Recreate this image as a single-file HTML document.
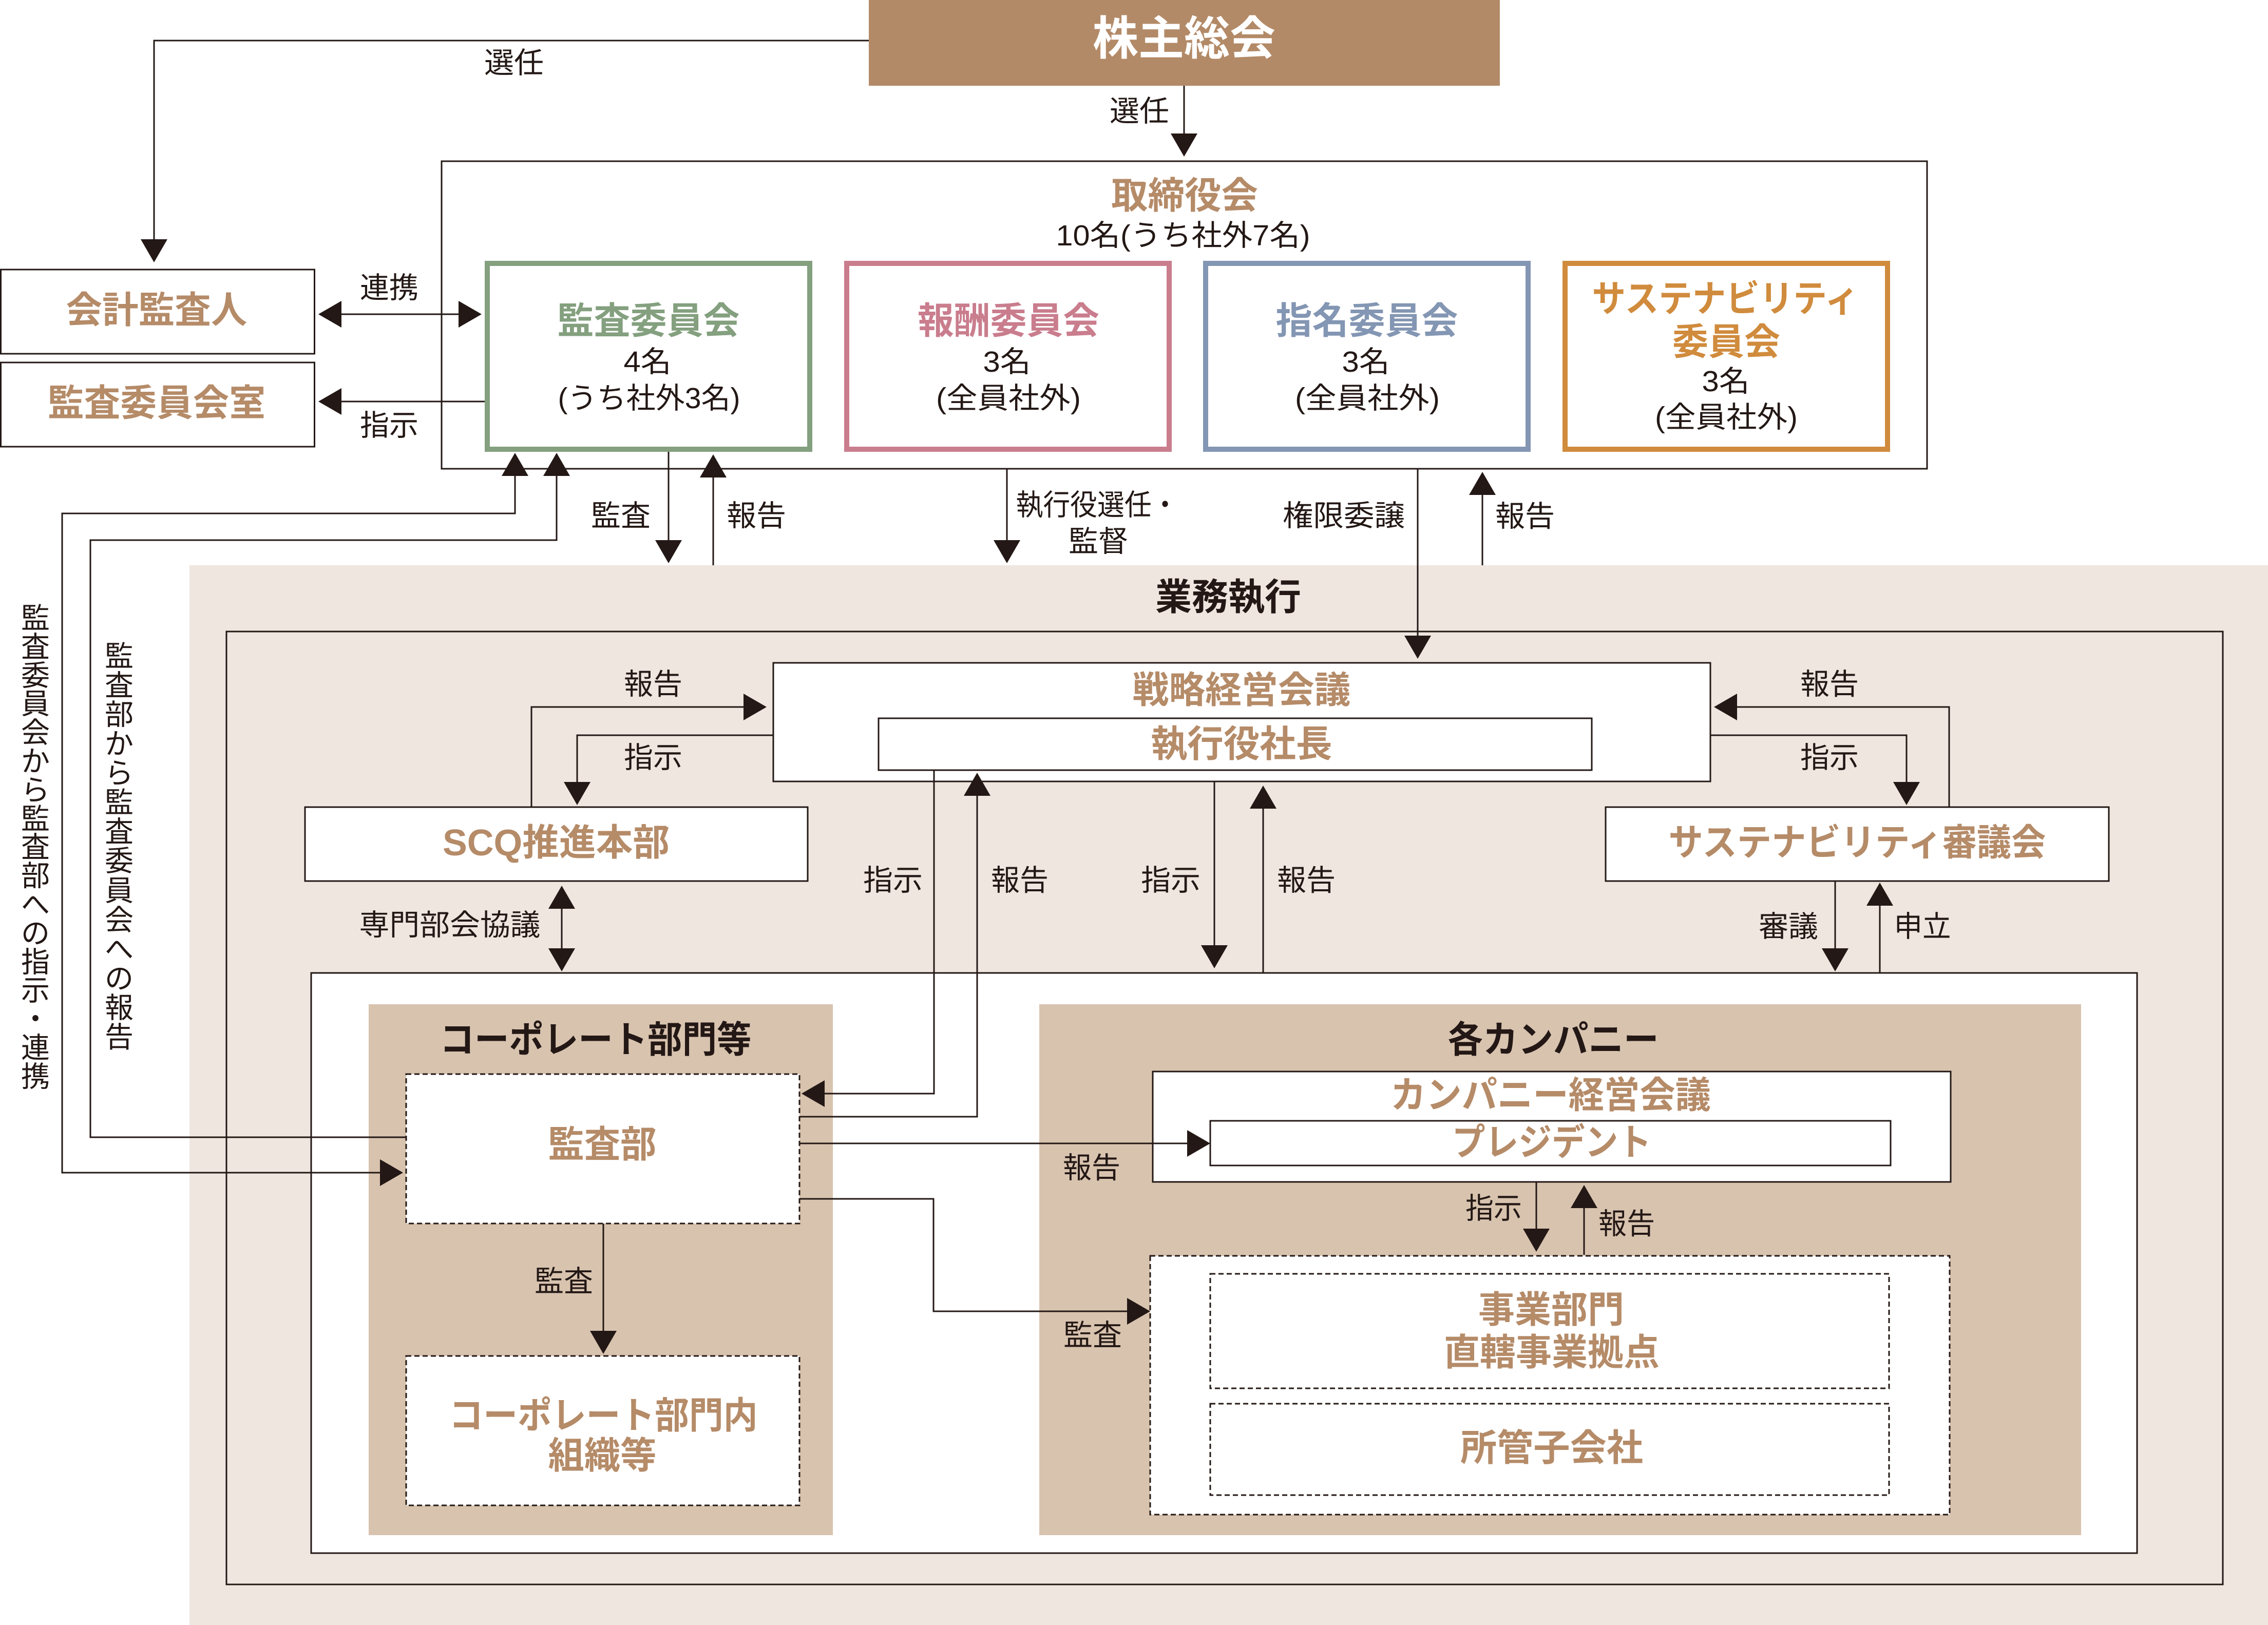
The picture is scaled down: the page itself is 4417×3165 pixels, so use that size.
<!DOCTYPE html>
<html><head><meta charset="utf-8"><style>
html,body{margin:0;padding:0;background:#fff;}
svg{display:block;}
text{font-family:"Liberation Sans","Noto Sans CJK JP",sans-serif;dominant-baseline:central;text-anchor:middle;}
.r{font-size:57px;fill:#231815;}
.b{font-size:72px;font-weight:bold;fill:#B58B68;}
.k{font-size:72px;font-weight:bold;fill:#231815;}
.l{stroke:#231815;stroke-width:3;fill:none;}
.d{stroke:#231815;stroke-width:3;stroke-dasharray:10 6;}
.a{fill:#231815;}
</style></head><body>
<svg width="4417" height="3165" viewBox="0 0 4417 3165" xmlns="http://www.w3.org/2000/svg">
<!-- backgrounds -->
<rect x="1692" y="0" width="1229" height="167" fill="#B38A67"/>
<rect x="369" y="1101" width="4048" height="2064" fill="#EFE6E0"/>

<!-- board -->
<rect x="860" y="314" width="2893" height="599" class="l"/>
<rect x="949" y="513" width="628" height="362" fill="#fff" stroke="#84A07F" stroke-width="10"/>
<rect x="1649" y="513" width="628" height="362" fill="#fff" stroke="#C97D8D" stroke-width="10"/>
<rect x="2348" y="513" width="628" height="362" fill="#fff" stroke="#8396B3" stroke-width="10"/>
<rect x="3048" y="513" width="628" height="362" fill="#fff" stroke="#D08B3D" stroke-width="10"/>

<rect x="1.5" y="525" width="611" height="164" class="l"/>
<rect x="1.5" y="706" width="611" height="164" class="l"/>

<!-- execution -->
<rect x="441" y="1230" width="3888" height="1856" class="l"/>
<rect x="1506" y="1291" width="1825" height="231" class="l" style="fill:#fff"/>
<rect x="1711" y="1399" width="1389" height="101" class="l" style="fill:#fff"/>
<rect x="594" y="1572" width="979" height="144" class="l" style="fill:#fff"/>
<rect x="3127" y="1572" width="980" height="144" class="l" style="fill:#fff"/>
<rect x="606" y="1895" width="3556" height="1130" class="l" style="fill:#fff"/>
<rect x="718" y="1956" width="904" height="1034" fill="#D8C3AF"/>
<rect x="2024" y="1956" width="2029" height="1034" fill="#D8C3AF"/>
<rect x="791" y="2092" width="766" height="291" fill="#fff" class="d"/>
<rect x="791" y="2641" width="766" height="291" fill="#fff" class="d"/>
<rect x="2245" y="2087" width="1554" height="215" class="l" style="fill:#fff"/>
<rect x="2357" y="2183" width="1325" height="87" class="l" style="fill:#fff"/>
<rect x="2240" y="2446" width="1557" height="504" fill="#fff" class="d"/>
<rect x="2357" y="2481" width="1322" height="223" fill="none" class="d"/>
<rect x="2357" y="2734" width="1322" height="178" fill="none" class="d"/>

<!-- connectors -->
<polyline class="l" points="1692,79 300,79 300,470"/>
<polygon class="a" points="274,466 326,466 300,511"/>
<line class="l" x1="2306" y1="167" x2="2306" y2="264"/>
<polygon class="a" points="2280,260 2332,260 2306,305"/>
<line class="l" x1="660" y1="612" x2="898" y2="612"/>
<polygon class="a" points="665,586 665,638 620,612"/>
<polygon class="a" points="893,586 893,638 938,612"/>
<line class="l" x1="944" y1="782" x2="660" y2="782"/>
<polygon class="a" points="665,756 665,808 620,782"/>

<polyline class="l" points="1003,922 1003,1000 121,1000 121,2284 745,2284"/>
<polygon class="a" points="977,927 1029,927 1003,882"/>
<polygon class="a" points="740,2258 740,2310 785,2284"/>
<polyline class="l" points="1084,922 1084,1052 176,1052 176,2215 791,2215"/>
<polygon class="a" points="1058,927 1110,927 1084,882"/>

<line class="l" x1="1302" y1="880" x2="1302" y2="1056"/>
<polygon class="a" points="1276,1052 1328,1052 1302,1097"/>
<line class="l" x1="1389" y1="1101" x2="1389" y2="926"/>
<polygon class="a" points="1363,930 1415,930 1389,885"/>
<line class="l" x1="1961" y1="913" x2="1961" y2="1056"/>
<polygon class="a" points="1935,1052 1987,1052 1961,1097"/>
<line class="l" x1="2761" y1="913" x2="2761" y2="1242"/>
<polygon class="a" points="2735,1238 2787,1238 2761,1283"/>
<line class="l" x1="2887" y1="1101" x2="2887" y2="960"/>
<polygon class="a" points="2861,964 2913,964 2887,919"/>

<polyline class="l" points="1035,1572 1035,1377 1452,1377"/>
<polygon class="a" points="1448,1351 1448,1403 1493,1377"/>
<polyline class="l" points="1506,1432 1124,1432 1124,1527"/>
<polygon class="a" points="1098,1523 1150,1523 1124,1568"/>
<polyline class="l" points="3796,1572 3796,1377 3379,1377"/>
<polygon class="a" points="3383,1351 3383,1403 3338,1377"/>
<polyline class="l" points="3331,1432 3713,1432 3713,1527"/>
<polygon class="a" points="3687,1523 3739,1523 3713,1568"/>

<line class="l" x1="1094" y1="1766" x2="1094" y2="1851"/>
<polygon class="a" points="1068,1770 1120,1770 1094,1725"/>
<polygon class="a" points="1068,1847 1120,1847 1094,1892"/>
<line class="l" x1="3574" y1="1716" x2="3574" y2="1851"/>
<polygon class="a" points="3548,1847 3600,1847 3574,1892"/>
<line class="l" x1="3661" y1="1895" x2="3661" y2="1760"/>
<polygon class="a" points="3635,1764 3687,1764 3661,1719"/>
<line class="l" x1="2365" y1="1522" x2="2365" y2="1845"/>
<polygon class="a" points="2339,1841 2391,1841 2365,1886"/>
<line class="l" x1="2460" y1="1895" x2="2460" y2="1571"/>
<polygon class="a" points="2434,1575 2486,1575 2460,1530"/>

<polyline class="l" points="1819,1500 1819,2130 1602,2130"/>
<polygon class="a" points="1606,2104 1606,2156 1561,2130"/>
<polyline class="l" points="1557,2175 1903,2175 1903,1546"/>
<polygon class="a" points="1877,1550 1929,1550 1903,1505"/>
<line class="l" x1="1557" y1="2227" x2="2316" y2="2227"/>
<polygon class="a" points="2312,2201 2312,2253 2357,2227"/>
<polyline class="l" points="1557,2335 1818,2335 1818,2554 2199,2554"/>
<polygon class="a" points="2195,2528 2195,2580 2240,2554"/>
<line class="l" x1="1175" y1="2383" x2="1175" y2="2596"/>
<polygon class="a" points="1149,2592 1201,2592 1175,2637"/>
<line class="l" x1="2992" y1="2302" x2="2992" y2="2397"/>
<polygon class="a" points="2966,2393 3018,2393 2992,2438"/>
<line class="l" x1="3085" y1="2444" x2="3085" y2="2349"/>
<polygon class="a" points="3059,2353 3111,2353 3085,2308"/>

<!-- texts -->
<text x="2306" y="76" font-size="90" font-weight="bold" fill="#fff" textLength="356" lengthAdjust="spacingAndGlyphs">株主総会</text>
<text class="r" x="1001" y="123" textLength="116" lengthAdjust="spacingAndGlyphs">選任</text>
<text class="r" x="2219" y="217" textLength="116" lengthAdjust="spacingAndGlyphs">選任</text>
<text class="b" x="2307" y="382" textLength="286" lengthAdjust="spacingAndGlyphs">取締役会</text>
<text class="r" x="2304" y="459" textLength="495" lengthAdjust="spacingAndGlyphs">10名(うち社外7名)</text>
<text class="b" x="305" y="605" textLength="353" lengthAdjust="spacingAndGlyphs">会計監査人</text>
<text class="b" x="305" y="786" textLength="424" lengthAdjust="spacingAndGlyphs">監査委員会室</text>
<text class="r" x="758" y="561" textLength="114" lengthAdjust="spacingAndGlyphs">連携</text>
<text class="r" x="758" y="829" textLength="114" lengthAdjust="spacingAndGlyphs">指示</text>

<text class="b" x="1263" y="626" style="fill:#84A07F" textLength="355" lengthAdjust="spacingAndGlyphs">監査委員会</text>
<text class="r" x="1261" y="705" textLength="93" lengthAdjust="spacingAndGlyphs">4名</text>
<text class="r" x="1264" y="776" textLength="355" lengthAdjust="spacingAndGlyphs">(うち社外3名)</text>
<text class="b" x="1964" y="626" style="fill:#C97D8D" textLength="354" lengthAdjust="spacingAndGlyphs">報酬委員会</text>
<text class="r" x="1961" y="705" textLength="93" lengthAdjust="spacingAndGlyphs">3名</text>
<text class="r" x="1964" y="776" textLength="282" lengthAdjust="spacingAndGlyphs">(全員社外)</text>
<text class="b" x="2662" y="626" style="fill:#8396B3" textLength="355" lengthAdjust="spacingAndGlyphs">指名委員会</text>
<text class="r" x="2660" y="705" textLength="93" lengthAdjust="spacingAndGlyphs">3名</text>
<text class="r" x="2663" y="776" textLength="282" lengthAdjust="spacingAndGlyphs">(全員社外)</text>
<text class="b" x="3360" y="583" style="fill:#D08B3D" textLength="519" lengthAdjust="spacingAndGlyphs">サステナビリティ</text>
<text class="b" x="3362" y="667" style="fill:#D08B3D" textLength="210" lengthAdjust="spacingAndGlyphs">委員会</text>
<text class="r" x="3361" y="743" textLength="93" lengthAdjust="spacingAndGlyphs">3名</text>
<text class="r" x="3362" y="813" textLength="278" lengthAdjust="spacingAndGlyphs">(全員社外)</text>

<text class="r" x="1209" y="1005" textLength="116" lengthAdjust="spacingAndGlyphs">監査</text>
<text class="r" x="1473" y="1005" textLength="116" lengthAdjust="spacingAndGlyphs">報告</text>
<text class="r" x="2137" y="984" textLength="317" lengthAdjust="spacingAndGlyphs">執行役選任・</text>
<text class="r" x="2139" y="1055" textLength="116" lengthAdjust="spacingAndGlyphs">監督</text>
<text class="r" x="2617" y="1005" textLength="238" lengthAdjust="spacingAndGlyphs">権限委譲</text>
<text class="r" x="2970" y="1006" textLength="116" lengthAdjust="spacingAndGlyphs">報告</text>

<text class="k" x="2392" y="1164" textLength="284" lengthAdjust="spacingAndGlyphs">業務執行</text>
<text class="b" x="2418" y="1345" textLength="425" lengthAdjust="spacingAndGlyphs">戦略経営会議</text>
<text class="b" x="2418" y="1450" textLength="353" lengthAdjust="spacingAndGlyphs">執行役社長</text>
<text class="r" x="1272" y="1333" textLength="114" lengthAdjust="spacingAndGlyphs">報告</text>
<text class="r" x="1272" y="1476" textLength="114" lengthAdjust="spacingAndGlyphs">指示</text>
<text class="r" x="3563" y="1333" textLength="114" lengthAdjust="spacingAndGlyphs">報告</text>
<text class="r" x="3563" y="1476" textLength="114" lengthAdjust="spacingAndGlyphs">指示</text>
<text class="b" x="1083" y="1642" textLength="442" lengthAdjust="spacingAndGlyphs">SCQ推進本部</text>
<text class="b" x="3617" y="1642" textLength="735" lengthAdjust="spacingAndGlyphs">サステナビリティ審議会</text>
<text class="r" x="876" y="1802" textLength="353" lengthAdjust="spacingAndGlyphs">専門部会協議</text>
<text class="r" x="3483" y="1805" textLength="116" lengthAdjust="spacingAndGlyphs">審議</text>
<text class="r" x="3744" y="1805" textLength="111" lengthAdjust="spacingAndGlyphs">申立</text>
<text class="r" x="1739" y="1715" textLength="116" lengthAdjust="spacingAndGlyphs">指示</text>
<text class="r" x="1986" y="1715" textLength="112" lengthAdjust="spacingAndGlyphs">報告</text>
<text class="r" x="2280" y="1715" textLength="116" lengthAdjust="spacingAndGlyphs">指示</text>
<text class="r" x="2544" y="1715" textLength="114" lengthAdjust="spacingAndGlyphs">報告</text>

<text class="k" x="1160" y="2026" textLength="607" lengthAdjust="spacingAndGlyphs">コーポレート部門等</text>
<text class="k" x="3025" y="2026" textLength="411" lengthAdjust="spacingAndGlyphs">各カンパニー</text>
<text class="b" x="1173" y="2230" textLength="211" lengthAdjust="spacingAndGlyphs">監査部</text>
<text class="r" x="1098" y="2496" textLength="114" lengthAdjust="spacingAndGlyphs">監査</text>
<text class="b" x="1175" y="2758" textLength="601" lengthAdjust="spacingAndGlyphs">コーポレート部門内</text>
<text class="b" x="1173" y="2836" textLength="211" lengthAdjust="spacingAndGlyphs">組織等</text>
<text class="b" x="3020" y="2134" textLength="624" lengthAdjust="spacingAndGlyphs">カンパニー経営会議</text>
<text class="b" x="3022" y="2226" textLength="388" lengthAdjust="spacingAndGlyphs">プレジデント</text>
<text class="r" x="2126" y="2275" textLength="112" lengthAdjust="spacingAndGlyphs">報告</text>
<text class="r" x="2128" y="2601" textLength="114" lengthAdjust="spacingAndGlyphs">監査</text>
<text class="r" x="2909" y="2354" textLength="110" lengthAdjust="spacingAndGlyphs">指示</text>
<text class="r" x="3168" y="2384" textLength="110" lengthAdjust="spacingAndGlyphs">報告</text>
<text class="b" x="3021" y="2552" textLength="284" lengthAdjust="spacingAndGlyphs">事業部門</text>
<text class="b" x="3022" y="2635" textLength="420" lengthAdjust="spacingAndGlyphs">直轄事業拠点</text>
<text class="b" x="3022" y="2821" textLength="356" lengthAdjust="spacingAndGlyphs">所管子会社</text>

<!-- vertical texts -->
<g>
<text class="r" style="font-size:56px" x="69" y="1204">監</text>
<text class="r" style="font-size:56px" x="69" y="1260">査</text>
<text class="r" style="font-size:56px" x="69" y="1316">委</text>
<text class="r" style="font-size:56px" x="69" y="1371">員</text>
<text class="r" style="font-size:56px" x="69" y="1427">会</text>
<text class="r" style="font-size:56px" x="69" y="1483">か</text>
<text class="r" style="font-size:56px" x="69" y="1539">ら</text>
<text class="r" style="font-size:56px" x="69" y="1595">監</text>
<text class="r" style="font-size:56px" x="69" y="1650">査</text>
<text class="r" style="font-size:56px" x="69" y="1706">部</text>
<text class="r" style="font-size:56px" x="69" y="1762">へ</text>
<text class="r" style="font-size:56px" x="69" y="1818">の</text>
<text class="r" style="font-size:56px" x="69" y="1874">指</text>
<text class="r" style="font-size:56px" x="69" y="1929">示</text>
<text class="r" style="font-size:56px" x="69" y="1985">・</text>
<text class="r" style="font-size:56px" x="69" y="2041">連</text>
<text class="r" style="font-size:56px" x="69" y="2097">携</text>

<text class="r" style="font-size:56px" x="232" y="1278">監</text>
<text class="r" style="font-size:56px" x="232" y="1335">査</text>
<text class="r" style="font-size:56px" x="232" y="1392">部</text>
<text class="r" style="font-size:56px" x="232" y="1449">か</text>
<text class="r" style="font-size:56px" x="232" y="1506">ら</text>
<text class="r" style="font-size:56px" x="232" y="1563">監</text>
<text class="r" style="font-size:56px" x="232" y="1620">査</text>
<text class="r" style="font-size:56px" x="232" y="1677">委</text>
<text class="r" style="font-size:56px" x="232" y="1735">員</text>
<text class="r" style="font-size:56px" x="232" y="1792">会</text>
<text class="r" style="font-size:56px" x="232" y="1849">へ</text>
<text class="r" style="font-size:56px" x="232" y="1906">の</text>
<text class="r" style="font-size:56px" x="232" y="1963">報</text>
<text class="r" style="font-size:56px" x="232" y="2020">告</text>
</g>
</svg>
</body></html>
